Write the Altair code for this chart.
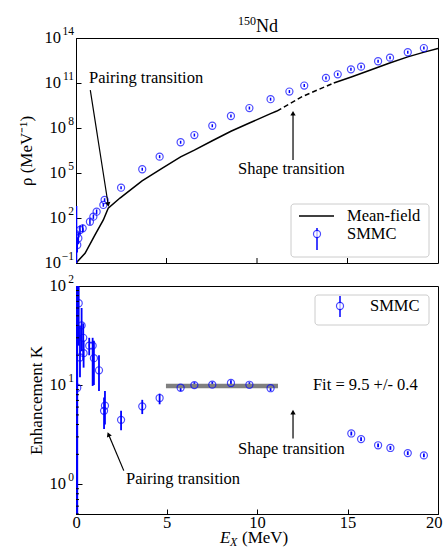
import math
import altair as alt
import pandas as pd

FONT = "Liberation Serif, Times New Roman, Times, serif"
BLUE = "#0000ff"

# ---------------- data ----------------
# SMMC state density (top panel): excitation energy (MeV), log10 rho, error (decades)
SMMC_X = [0.03, 0.07, 0.13, 0.22, 0.37, 0.77, 0.96, 1.14, 1.51, 1.58, 2.49, 3.66,
          4.62, 5.78, 6.54, 7.53, 8.56, 9.58, 10.75, 11.79, 12.61, 13.81, 14.46,
          15.19, 15.75, 16.69, 17.35, 18.33, 19.22]
SMMC_LOGRHO = [0.9, 0.2, 0.65, 1.2, 1.31, 1.75, 2.09, 2.42, 2.87, 3.2, 4.02, 5.25,
               6.09, 7.05, 7.53, 8.15, 8.8, 9.33, 9.92, 10.43, 10.83, 11.34, 11.58,
               11.91, 12.09, 12.45, 12.69, 13.05, 13.33]
SMMC_ERR = [1.9, 0.5, 0.4, 0.3, 0.25, 0.2, 0.15, 0.15, 0.12, 0.12, 0.1, 0.1,
            0.1, 0.1, 0.1, 0.1, 0.1, 0.1, 0.1, 0.1, 0.1, 0.1, 0.1,
            0.1, 0.1, 0.1, 0.1, 0.1, 0.1]

# Mean-field state density (top panel line)
MF_X = [0.03, 0.07, 0.5, 1.05, 1.51, 1.78, 2.43, 3.65, 4.75, 5.78, 6.54, 7.53,
        8.56, 9.58, 10.72, 11.1, 12.49, 14.24, 15.21, 16.35, 17.33, 18.33, 19.24, 20.0]
MF_LOGRHO = [-1.0, -0.91, -0.35, 0.87, 1.87, 2.65, 3.33, 4.47, 5.31, 6.08, 6.53, 7.15,
             7.78, 8.33, 8.94, 9.13, 10.09, 11.0, 11.4, 11.9, 12.33, 12.74, 13.06, 13.31]
DASH_START = 11.1
DASH_END = 14.24

# Enhancement factor K (bottom panel)
K_X = [0.03, 0.07, 0.15, 0.22, 0.31, 0.40, 0.42, 0.73, 0.92, 0.99, 1.27, 1.55,
       1.60, 2.49, 3.66, 4.62, 5.78, 6.54, 7.53, 8.56, 9.58, 10.75, 15.21, 15.75,
       16.69, 17.37, 18.33, 19.22]
K_VAL = [30, 9.4, 67, 19, 40, 30, 21, 25, 25, 18.7, 14.1, 5.5,
         6.2, 4.46, 6.1, 7.4, 9.4, 10.0, 10.1, 10.5, 10.07, 9.3, 3.25, 2.85,
         2.47, 2.32, 2.06, 1.95]
K_LO = [0.3, 0.3, 25, 12, 22, 18, 15, 20, 9.8, 10, 8.7, 3.6,
        4.0, 3.5, 5.1, 6.4, 8.7, 9.3, 9.4, 9.8, 9.4, 8.7, 3.1, 2.72,
        2.36, 2.22, 1.97, 1.87]
K_HI = [200, 200, 100, 40, 60, 42, 28, 30, 30, 28, 20, 7.5,
        8.7, 5.5, 7.1, 8.2, 10.1, 10.7, 10.8, 11.2, 10.7, 9.9, 3.4, 2.98,
        2.58, 2.42, 2.15, 2.04]

FIT_X0, FIT_X1, FIT_Y = 4.97, 11.16, 9.8

TOP_TICKS = [1e-1, 1e2, 1e5, 1e8, 1e11, 1e14]
BOT_TICKS = [1, 10, 100]
BOT_MINOR = [0.5, 0.6, 0.7, 0.8, 0.9, 2, 3, 4, 5, 6, 7, 8, 9,
             20, 30, 40, 50, 60, 70, 80, 90]
X_TICKS = [0, 5, 10, 15, 20]

# annotations: tail (x0, y0) -> head (x1, y1), head angle
TOP_ARROWS = [(0.79, 10 ** 10.53, 1.77, 10 ** 2.95, 171),
              (11.99, 10 ** 5.87, 11.99, 10 ** 8.93, 0)]
BOT_ARROWS = [(2.64, 1.37, 1.81, 3.13, 337),
              (11.99, 2.89, 11.99, 5.24, 0)]
TOP_TEXT = [("Pairing transition", 0.72, 10 ** 11.33),
            ("Shape transition", 8.95, 10 ** 5.27)]
BOT_TEXT = [("Pairing transition", 2.76, 1.125),
            ("Shape transition", 8.95, 2.28),
            ("Fit = 9.5 +/- 0.4", 13.09, 10.0)]

# ---------------- tables ----------------
smmc = pd.DataFrame({
    "x": SMMC_X,
    "rho": [10 ** v for v in SMMC_LOGRHO],
    "lo": [10 ** (v - e) for v, e in zip(SMMC_LOGRHO, SMMC_ERR)],
    "hi": [10 ** (v + e) for v, e in zip(SMMC_LOGRHO, SMMC_ERR)],
})
mf = pd.DataFrame({"x": MF_X, "rho": [10 ** v for v in MF_LOGRHO]})
kdf = pd.DataFrame({"x": K_X, "k": K_VAL, "lo": K_LO, "hi": K_HI})
fit = pd.DataFrame({"x": [FIT_X0], "x2": [FIT_X1], "y": [FIT_Y]})
minor = pd.DataFrame({"v": BOT_MINOR})
xticks_df = pd.DataFrame({"x": X_TICKS[1:-1]})
one = pd.DataFrame({"a": [0]})


def arrows_df(arr):
    return pd.DataFrame(arr, columns=["x0", "y0", "x1", "y1", "ang"])


def text_df(arr):
    return pd.DataFrame(arr, columns=["t", "x", "y"])


def tick_label_df(vals):
    rows = []
    for v in vals:
        e = int(round(math.log10(v)))
        es = str(e).replace("-", "\u2212")
        w = 7 if len(es) == 1 else 12
        rows.append({"v": v, "e": es, "bx": -3 - w})
    return pd.DataFrame(rows)


def tick_labels(vals, scale):
    d = tick_label_df(vals)
    base = alt.Chart(d).mark_text(font=FONT, fontSize=16.5, align="right",
                                  baseline="middle", color="black", text="10").encode(
        x=alt.X("bx:Q", scale=None), y=alt.Y("v:Q", scale=scale))
    ex = alt.Chart(d).mark_text(font=FONT, fontSize=11.5, align="right",
                                baseline="middle", color="black", dy=-6).encode(
        x=alt.value(-2), y=alt.Y("v:Q", scale=scale), text="e:N")
    return base, ex


XS = alt.Scale(domain=[0, 20], nice=False, zero=False)
YT = alt.Scale(type="log", domain=[1e-1, 1e14], nice=False)
YB = alt.Scale(type="log", domain=[0.5, 100], nice=False)
TICK_IN = alt.ExprRef(expr="-5")

W = 362
HT = 225
HB = 228

# ---------------- top panel ----------------
y_top_axis = alt.Axis(values=TOP_TICKS, labels=False, title="ρ (MeV⁻¹)",
                      tickSize=TICK_IN, titlePadding=40)

mf_solid1 = alt.Chart(mf).transform_filter(f"datum.x <= {DASH_START}").mark_line(
    color="black", strokeWidth=1.5, clip=True).encode(
    x=alt.X("x:Q", scale=XS, axis=None), y=alt.Y("rho:Q", scale=YT, axis=y_top_axis))
mf_dash = alt.Chart(mf).transform_filter(
    f"datum.x >= {DASH_START} && datum.x <= {DASH_END}").mark_line(
    color="black", strokeWidth=1.5, strokeDash=[5, 3], clip=True).encode(
    x="x:Q", y="rho:Q")
mf_solid2 = alt.Chart(mf).transform_filter(f"datum.x >= {DASH_END}").mark_line(
    color="black", strokeWidth=1.5, clip=True).encode(x="x:Q", y="rho:Q")

top_xticks = alt.Chart(xticks_df).mark_rule(color="black", strokeWidth=1).encode(
    x="x:Q", y=alt.value(HT), y2=alt.value(HT - 5))

top_err = alt.Chart(smmc).mark_rule(color=BLUE, strokeWidth=1.5, clip=True).encode(
    x="x:Q", y="lo:Q", y2="hi:Q")
top_pts = alt.Chart(smmc).mark_point(shape="circle", filled=False, color=BLUE,
                                     size=50, strokeWidth=1.2, clip=True).encode(
    x="x:Q", y="rho:Q")

ta = arrows_df(TOP_ARROWS)
top_arrow_lines = alt.Chart(ta).mark_rule(color="black", strokeWidth=1.2).encode(
    x="x0:Q", y="y0:Q", x2="x1:Q", y2="y1:Q")
top_arrow_heads = alt.Chart(ta).mark_point(shape="triangle", filled=True, color="black",
                                           size=28, opacity=1).encode(
    x="x1:Q", y="y1:Q", angle=alt.Angle("ang:Q", scale=None))
top_texts = alt.Chart(text_df(TOP_TEXT)).mark_text(
    font=FONT, fontSize=16.5, align="left", baseline="middle", color="black").encode(
    x="x:Q", y="y:Q", text="t:N")
top_lab_base, top_lab_exp = tick_labels(TOP_TICKS, YT)

# panel title: superscript 150 + Nd
title_sup = alt.Chart(one).mark_text(font=FONT, fontSize=12, align="right",
                                     baseline="alphabetic", color="black", text="150").encode(
    x=alt.value(180), y=alt.value(-13))
title_nd = alt.Chart(one).mark_text(font=FONT, fontSize=18, align="left",
                                    baseline="alphabetic", color="black", text="Nd").encode(
    x=alt.value(180), y=alt.value(-6))

# legend (top)
leg_box = alt.Chart(one).mark_rect(fill="white", stroke="#cccccc", strokeWidth=1,
                                   cornerRadius=3).encode(
    x=alt.value(215), x2=alt.value(353), y=alt.value(166), y2=alt.value(219))
leg_line = alt.Chart(one).mark_rule(color="black", strokeWidth=1.5).encode(
    x=alt.value(223), x2=alt.value(258), y=alt.value(178))
leg_err = alt.Chart(one).mark_rule(color=BLUE, strokeWidth=1.5).encode(
    x=alt.value(241), y=alt.value(190), y2=alt.value(212))
leg_pt = alt.Chart(one).mark_point(shape="circle", filled=True, fill="white", stroke=BLUE,
                                   size=50, strokeWidth=1.2).encode(
    x=alt.value(241), y=alt.value(196))
leg_t1 = alt.Chart(one).mark_text(font=FONT, fontSize=16.5, align="left",
                                  baseline="middle", color="black", text="Mean-field").encode(
    x=alt.value(271), y=alt.value(178))
leg_t2 = alt.Chart(one).mark_text(font=FONT, fontSize=16.5, align="left",
                                  baseline="middle", color="black", text="SMMC").encode(
    x=alt.value(271), y=alt.value(196))

top = alt.layer(
    mf_solid1, mf_dash, mf_solid2, top_xticks, top_err, top_pts, top_arrow_lines,
    top_arrow_heads, top_texts, top_lab_base, top_lab_exp, title_sup, title_nd,
    leg_box, leg_line, leg_err, leg_pt, leg_t1, leg_t2,
).properties(width=W, height=HT)

# ---------------- bottom panel ----------------
x_bot = alt.X("x:Q", scale=XS, axis=alt.Axis(values=X_TICKS, title=None, tickSize=TICK_IN,
                                              labelPadding=5, labelFlush=True,
                                              labelFlushOffset=4, format="d"))
y_bot_axis = alt.Axis(values=BOT_TICKS, labels=False, title="Enhancement K",
                      tickSize=alt.ExprRef(expr="-6"), titlePadding=30)

minor_ticks = alt.Chart(minor).mark_rule(color="black", strokeWidth=1).encode(
    x=alt.value(0), x2=alt.value(3), y=alt.Y("v:Q", scale=YB))
fit_line = alt.Chart(fit).mark_rule(color="#808080", strokeWidth=4.5).encode(
    x=alt.X("x:Q", scale=XS), x2="x2:Q", y=alt.Y("y:Q", scale=YB))
bot_err = alt.Chart(kdf).mark_rule(color=BLUE, strokeWidth=1.8, clip=True).encode(
    x=x_bot, y=alt.Y("lo:Q", scale=YB, axis=y_bot_axis), y2="hi:Q")
bot_pts = alt.Chart(kdf).mark_point(shape="circle", filled=False, color=BLUE,
                                    size=50, strokeWidth=1.2, clip=True).encode(
    x="x:Q", y="k:Q")

ba = arrows_df(BOT_ARROWS)
bot_arrow_lines = alt.Chart(ba).mark_rule(color="black", strokeWidth=1.2).encode(
    x="x0:Q", y="y0:Q", x2="x1:Q", y2="y1:Q")
bot_arrow_heads = alt.Chart(ba).mark_point(shape="triangle", filled=True, color="black",
                                           size=28, opacity=1).encode(
    x="x1:Q", y="y1:Q", angle=alt.Angle("ang:Q", scale=None))
bot_texts = alt.Chart(text_df(BOT_TEXT)).mark_text(
    font=FONT, fontSize=16.5, align="left", baseline="middle", color="black").encode(
    x="x:Q", y="y:Q", text="t:N")
bot_lab_base, bot_lab_exp = tick_labels(BOT_TICKS, YB)

bleg_box = alt.Chart(one).mark_rect(fill="white", stroke="#cccccc", strokeWidth=1,
                                    cornerRadius=3).encode(
    x=alt.value(239), x2=alt.value(353), y=alt.value(9), y2=alt.value(39))
bleg_err = alt.Chart(one).mark_rule(color=BLUE, strokeWidth=1.5).encode(
    x=alt.value(264), y=alt.value(10), y2=alt.value(31))
bleg_pt = alt.Chart(one).mark_point(shape="circle", filled=True, fill="white", stroke=BLUE,
                                    size=50, strokeWidth=1.2).encode(
    x=alt.value(264), y=alt.value(20))
bleg_t = alt.Chart(one).mark_text(font=FONT, fontSize=16.5, align="left",
                                  baseline="middle", color="black", text="SMMC").encode(
    x=alt.value(294), y=alt.value(20))

# x axis title: E_X (MeV)
xt_E = alt.Chart(one).mark_text(font=FONT, fontSize=17, fontStyle="italic", align="left",
                                baseline="alphabetic", color="black", text="E").encode(
    x=alt.value(144), y=alt.value(HB + 29))
xt_X = alt.Chart(one).mark_text(font=FONT, fontSize=12, fontStyle="italic", align="left",
                                baseline="alphabetic", color="black", text="X").encode(
    x=alt.value(154), y=alt.value(HB + 32))
xt_M = alt.Chart(one).mark_text(font=FONT, fontSize=17, align="left",
                                baseline="alphabetic", color="black", text="(MeV)").encode(
    x=alt.value(166), y=alt.value(HB + 29))

bottom = alt.layer(
    bot_err, minor_ticks, fit_line, bot_pts, bot_arrow_lines, bot_arrow_heads, bot_texts,
    bot_lab_base, bot_lab_exp,
    bleg_box, bleg_err, bleg_pt, bleg_t, xt_E, xt_X, xt_M,
).properties(width=W, height=HB)

chart = alt.vconcat(top, bottom, spacing=1).properties(
    padding={"left": 17, "top": 14, "right": 0, "bottom": 0}
).configure_axis(
    grid=False, domainColor="black", tickColor="black", tickWidth=1,
    labelFont=FONT, labelFontSize=16.5, labelColor="black",
    titleFont=FONT, titleFontSize=17, titleFontWeight="normal", titleColor="black",
).configure_view(stroke="black", strokeWidth=1).configure_text(font=FONT)

chart.save("out.html", embed_options={"renderer": "svg", "actions": False})
